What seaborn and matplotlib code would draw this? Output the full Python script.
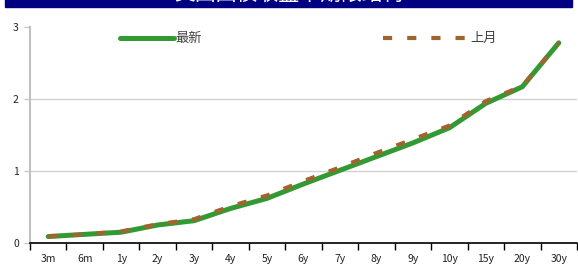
import seaborn as sns
import matplotlib.pyplot as plt
from matplotlib.patches import Rectangle

tenors = ["3m", "6m", "1y", "2y", "3y", "4y", "5y", "6y", "7y", "8y", "9y", "10y", "15y", "20y", "30y"]
latest = [0.09, 0.12, 0.15, 0.25, 0.31, 0.48, 0.62, 0.82, 1.01, 1.20, 1.39, 1.60, 1.94, 2.17, 2.78]
last_month = [0.09, 0.12, 0.16, 0.26, 0.33, 0.51, 0.66, 0.86, 1.05, 1.25, 1.44, 1.63, 1.97, 2.18, 2.78]
title = "美国国债收益率期限结构"

sns.set_style("white")
plt.rcParams['font.family'] = ['Noto Sans CJK SC', 'DejaVu Sans']

fig = plt.figure(figsize=(5.78, 2.64), dpi=100)
ax = fig.add_axes([30 / 578, 21 / 264, 547 / 578, 216 / 264])

sns.lineplot(x=tenors, y=latest, ax=ax, color="#339933", linewidth=3.6,
             solid_capstyle="round", label="最新")
sns.lineplot(x=tenors, y=last_month, ax=ax, color="#a0652f", linewidth=3,
             linestyle=(0, (2.2, 3.6)), label="上月")

ax.set_xlim(-0.5, len(tenors) - 0.5)
ax.set_ylim(0, 3)
ax.set_yticks([0, 1, 2, 3])
for v in [1, 2]:
    ax.axhline(v, color="#d0d0d0", linewidth=1, zorder=0)

ax.set_xticks([i + 0.5 for i in range(-1, len(tenors))], minor=False)
ax.set_xticklabels([])
ax.set_xticks(range(len(tenors)), minor=True)
ax.set_xticklabels(tenors, minor=True)
ax.tick_params(axis="x", which="major", direction="out", length=5, width=1, color="black", bottom=True)
ax.tick_params(axis="x", which="minor", length=0, labelsize=7.5, pad=8, labelcolor="#222222")
ax.tick_params(axis="y", direction="out", length=4, width=1, color="#c8c8c8", left=True,
               labelsize=7.5, pad=4, labelcolor="#222222")

for s in ["top", "right"]:
    ax.spines[s].set_visible(False)
ax.spines["bottom"].set_color("black")
ax.spines["bottom"].set_linewidth(1.2)
ax.spines["left"].set_color("#c0c0c0")
ax.spines["left"].set_linewidth(1.5)

handles, labels = ax.get_legend_handles_labels()
leg1 = ax.legend([handles[0]], [labels[0]], loc="center left", bbox_to_anchor=(0.165, 0.945),
                 frameon=False, borderpad=0, borderaxespad=0, handlelength=4.1,
                 handletextpad=0.1, fontsize=9.5, labelcolor="#404040")
ax.add_artist(leg1)
ax.legend([handles[1]], [labels[1]], loc="center left", bbox_to_anchor=(0.645, 0.945),
          frameon=False, borderpad=0, borderaxespad=0, handlelength=6.5,
          handletextpad=0.1, fontsize=9.5, labelcolor="#404040")

fig.patches.append(Rectangle((5 / 578, 1 - 7 / 264), 567 / 578, 0.05,
                             transform=fig.transFigure, color="#000080", zorder=0))
fig.text(0.5, 1 + 6 / 264, title, color="white", fontsize=15, ha="center", va="center")

fig.savefig("out.png", dpi=100)
